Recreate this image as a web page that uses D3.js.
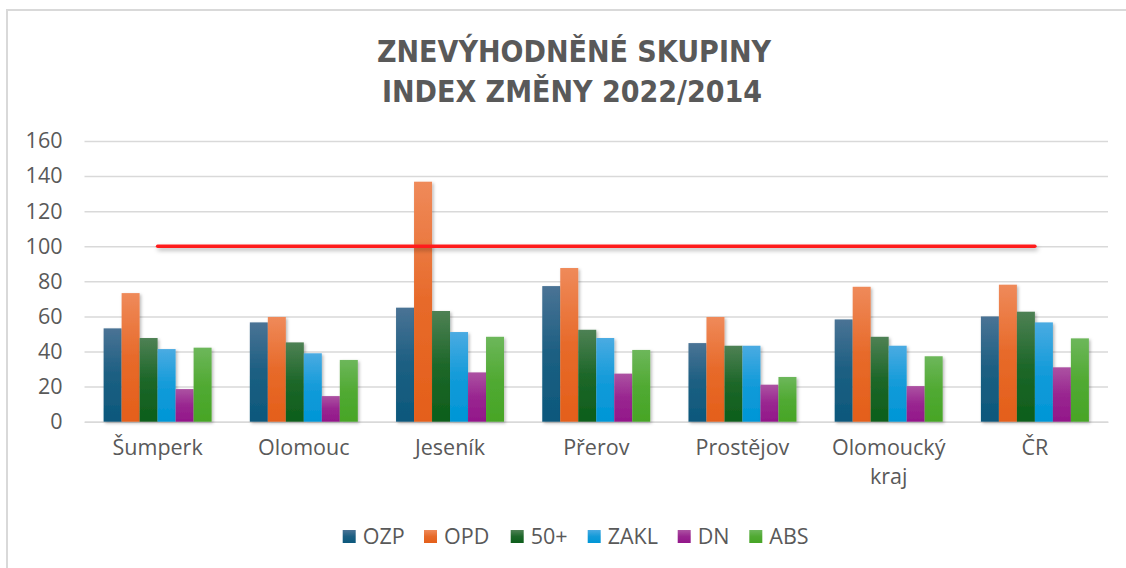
<!DOCTYPE html>
<html>
<head>
<meta charset="utf-8">
<script src="https://cdn.jsdelivr.net/npm/d3@7"></script>
<style>
  html, body { margin: 0; padding: 0; background: #fff; overflow: hidden; }
  svg { display: block; }
  text { font-family: "Open Sans", "Liberation Sans", sans-serif; fill: #595959; }
</style>
</head>
<body>
<div id="chart"></div>
<script>
const categories = ['Šumperk', 'Olomouc', 'Jeseník', 'Přerov', 'Prostějov', 'Olomoucký kraj', 'ČR'];
const seriesNames = ['OZP', 'OPD', '50+', 'ZAKL', 'DN', 'ABS'];

const OZP  = [53.2, 56.6, 65.0, 77.3, 44.8, 58.3, 60.0];
const OPD  = [73.3, 59.7, 136.8, 87.6, 59.7, 76.9, 78.1];
const P50  = [47.7, 45.2, 63.1, 52.4, 43.3, 48.4, 62.7];
const ZAKL = [41.4, 39.0, 51.1, 47.7, 43.3, 43.3, 56.6];
const DN   = [18.6, 14.6, 28.1, 27.4, 21.1, 20.3, 31.0];
const ABS  = [42.2, 35.2, 48.4, 40.9, 25.5, 37.3, 47.5];
const reference = [100, 100, 100, 100, 100, 100, 100];

const yTicks = [0, 20, 40, 60, 80, 100, 120, 140, 160];

const seriesValues = [OZP, OPD, P50, ZAKL, DN, ABS];
const colors = {
  'OZP':  ['#4a7395', '#0c587c'],
  'OPD':  ['#ef8a5a', '#e45f1a'],
  '50+':  ['#4e8154', '#0d5e1b'],
  'ZAKL': ['#4aabe2', '#0096d6'],
  'DN':   ['#ac52a2', '#93178a'],
  'ABS':  ['#6db75b', '#47a526']
};

const width = 1126, height = 568;
const margin = { top: 141, right: 18, bottom: 146.3, left: 84.5 };
const innerWidth = width - margin.left - margin.right;
const innerHeight = height - margin.top - margin.bottom;

const svg = d3.select('#chart').append('svg')
  .attr('width', width)
  .attr('height', height);

const defs = svg.append('defs');
seriesNames.forEach((s, i) => {
  const grad = defs.append('linearGradient')
    .attr('id', 'grad-' + i)
    .attr('x1', '0%').attr('y1', '0%')
    .attr('x2', '0%').attr('y2', '100%');
  grad.append('stop').attr('offset', '0%').attr('stop-color', colors[s][0]);
  grad.append('stop').attr('offset', '50%').attr('stop-color', d3.interpolateRgb(colors[s][0], colors[s][1])(0.75));
  grad.append('stop').attr('offset', '100%').attr('stop-color', colors[s][1]);
});

const shadow = defs.append('filter')
  .attr('id', 'shadow')
  .attr('x', '-30%').attr('y', '-10%')
  .attr('width', '160%').attr('height', '130%');
shadow.append('feDropShadow')
  .attr('dx', 1.5).attr('dy', 1.5)
  .attr('stdDeviation', 1.8)
  .attr('flood-color', '#000')
  .attr('flood-opacity', 0.28);

// line shadow needs a user-space region (path bbox has zero height)
const lineShadow = defs.append('filter')
  .attr('id', 'line-shadow')
  .attr('filterUnits', 'userSpaceOnUse')
  .attr('x', 0).attr('y', 0)
  .attr('width', width).attr('height', height);
lineShadow.append('feDropShadow')
  .attr('dx', 1.5).attr('dy', 2.5)
  .attr('stdDeviation', 2)
  .attr('flood-color', '#000')
  .attr('flood-opacity', 0.3);

// Chart frame (partially visible)
svg.append('line')
  .attr('x1', 7).attr('x2', 7).attr('y1', 10).attr('y2', height)
  .attr('stroke', '#d9d9d9').attr('stroke-width', 2);
svg.append('line')
  .attr('x1', 6).attr('x2', width).attr('y1', 10).attr('y2', 10)
  .attr('stroke', '#d9d9d9').attr('stroke-width', 2);

// Title
const title = svg.append('text')
  .attr('text-anchor', 'middle')
  .style('font-family', '"DejaVu Sans Condensed", "DejaVu Sans", sans-serif')
  .style('font-weight', 'bold')
  .style('font-size', '30px');
title.append('tspan').attr('x', 574).attr('y', 62).text('ZNEVÝHODNĚNÉ SKUPINY');
title.append('tspan').attr('x', 572).attr('y', 102).text('INDEX ZMĚNY 2022/2014');

const g = svg.append('g')
  .attr('transform', `translate(${margin.left},${margin.top})`);

const x0 = d3.scaleBand()
  .domain(categories)
  .range([0, innerWidth])
  .paddingInner(0.2615)
  .paddingOuter(0.13075);

const x1 = d3.scaleBand()
  .domain(seriesNames)
  .range([0, x0.bandwidth()]);

const y = d3.scaleLinear()
  .domain([0, 160])
  .range([innerHeight, 0]);

// Grid lines
g.append('g')
  .attr('class', 'grid')
  .call(d3.axisLeft(y).tickValues(yTicks).tickSize(-innerWidth).tickFormat(() => ''))
  .call(a => a.select('.domain').remove())
  .call(a => a.selectAll('text').remove())
  .selectAll('line')
  .attr('stroke', '#d9d9d9')
  .attr('stroke-width', 1.5);

// Y axis labels
g.append('g')
  .call(d3.axisLeft(y).tickValues(yTicks).tickSize(0).tickPadding(22))
  .call(a => a.select('.domain').remove())
  .selectAll('text')
  .style('font-size', '21.5px')
  .style('fill', '#595959');

// X axis
const xAxis = g.append('g')
  .attr('transform', `translate(0,${innerHeight})`)
  .call(d3.axisBottom(x0).tickSize(0).tickPadding(18));
xAxis.select('.domain').attr('stroke', '#d9d9d9').attr('stroke-width', 1.5);
xAxis.selectAll('text')
  .style('font-size', '21.5px')
  .style('fill', '#595959')
  .call(wrap, x0.step() - 10);

// Bars
const groups = g.selectAll('.group')
  .data(categories)
  .enter()
  .append('g')
  .attr('class', 'group')
  .attr('transform', d => `translate(${x0(d)},0)`);

groups.selectAll('rect')
  .data((c, ci) => seriesNames.map((s, si) => ({ s, si, v: seriesValues[si][ci] })))
  .enter()
  .append('rect')
  .attr('x', d => x1(d.s))
  .attr('y', d => y(d.v))
  .attr('width', x1.bandwidth())
  .attr('height', d => innerHeight - y(d.v))
  .attr('fill', d => `url(#grad-${d.si})`)
  .attr('filter', 'url(#shadow)');

// Reference line at 100
const line = d3.line()
  .x((d, i) => x0(categories[i]) + x0.bandwidth() / 2)
  .y(d => y(d));

g.append('path')
  .datum(reference)
  .attr('d', line)
  .attr('fill', 'none')
  .attr('stroke', '#ff1f1f')
  .attr('stroke-width', 3.5)
  .attr('stroke-linecap', 'round')
  .attr('filter', 'url(#line-shadow)');

// Legend
const legendX = [342.7, 424, 510.7, 587.7, 677.7, 749.3];
const legend = svg.append('g');
seriesNames.forEach((s, i) => {
  const item = legend.append('g').attr('transform', `translate(${legendX[i]},536.5)`);
  item.append('rect')
    .attr('x', 0).attr('y', -6.5)
    .attr('width', 13).attr('height', 13)
    .attr('fill', `url(#grad-${i})`);
  item.append('text')
    .attr('x', 20).attr('y', 0).attr('dy', '0.35em')
    .style('font-size', '21.5px')
    .text(s);
});

function wrap(texts, maxWidth) {
  texts.each(function () {
    const text = d3.select(this);
    const words = text.text().split(/\s+/);
    const yAttr = text.attr('y');
    const dy = parseFloat(text.attr('dy')) || 0;
    text.text(null);
    let lineWords = [];
    let lineNo = 0;
    let tspan = text.append('tspan').attr('x', 0).attr('y', yAttr).attr('dy', dy + 'em');
    words.forEach(w => {
      lineWords.push(w);
      tspan.text(lineWords.join(' '));
      if (tspan.node().getComputedTextLength() > maxWidth && lineWords.length > 1) {
        lineWords.pop();
        tspan.text(lineWords.join(' '));
        lineWords = [w];
        lineNo++;
        tspan = text.append('tspan').attr('x', 0).attr('y', yAttr)
          .attr('dy', (dy + lineNo * 1.35) + 'em').text(w);
      }
    });
  });
}
</script>
</body>
</html>
